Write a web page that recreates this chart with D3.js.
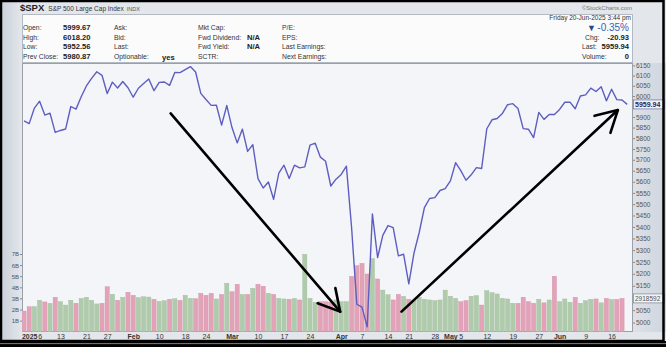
<!DOCTYPE html>
<html>
<head>
<meta charset="utf-8">
<script src="https://cdn.jsdelivr.net/npm/d3@7"></script>
<style>
  body { margin: 0; background: #fff; }
  svg { display: block; font-family: "Liberation Sans", Arial, sans-serif; }
</style>
</head>
<body>
<div id="chart"></div>
<script>
// trading days shown on the chart
const dates = [
  "2024-12-31",
  "2025-01-02","2025-01-03","2025-01-06","2025-01-07","2025-01-08","2025-01-10","2025-01-13","2025-01-14","2025-01-15","2025-01-16",
  "2025-01-17","2025-01-21","2025-01-22","2025-01-23","2025-01-24","2025-01-27","2025-01-28","2025-01-29","2025-01-30","2025-01-31",
  "2025-02-03","2025-02-04","2025-02-05","2025-02-06","2025-02-07","2025-02-10","2025-02-11","2025-02-12","2025-02-13","2025-02-14",
  "2025-02-18","2025-02-19","2025-02-20","2025-02-21","2025-02-24","2025-02-25","2025-02-26","2025-02-27","2025-02-28",
  "2025-03-03","2025-03-04","2025-03-05","2025-03-06","2025-03-07","2025-03-10","2025-03-11","2025-03-12","2025-03-13","2025-03-14",
  "2025-03-17","2025-03-18","2025-03-19","2025-03-20","2025-03-21","2025-03-24","2025-03-25","2025-03-26","2025-03-27","2025-03-28","2025-03-31",
  "2025-04-01","2025-04-02","2025-04-03","2025-04-04","2025-04-07","2025-04-08","2025-04-09","2025-04-10","2025-04-11","2025-04-14",
  "2025-04-15","2025-04-16","2025-04-17","2025-04-21","2025-04-22","2025-04-23","2025-04-24","2025-04-25","2025-04-28","2025-04-29","2025-04-30",
  "2025-05-01","2025-05-02","2025-05-05","2025-05-06","2025-05-07","2025-05-08","2025-05-09","2025-05-12","2025-05-13","2025-05-14",
  "2025-05-15","2025-05-16","2025-05-19","2025-05-20","2025-05-21","2025-05-22","2025-05-23","2025-05-27","2025-05-28","2025-05-29","2025-05-30",
  "2025-06-02","2025-06-03","2025-06-04","2025-06-05","2025-06-06","2025-06-09","2025-06-10","2025-06-11","2025-06-12","2025-06-13",
  "2025-06-16","2025-06-17","2025-06-18","2025-06-20"
];

// close prices
const closes = [
  5881.63,
  5868.55, 5942.47, 5975.38, 5909.03, 5918.25, 5827.04, 5836.22, 5842.91, 5949.91, 5937.34,
  5996.66, 6049.24, 6086.37, 6118.71, 6101.24, 6012.28, 6067.70, 6039.31, 6071.17, 6040.53,
  5994.57, 6037.88, 6061.48, 6083.57, 6025.99, 6066.44, 6068.50, 6051.97, 6115.07, 6114.63,
  6129.58, 6144.15, 6117.52, 6013.13, 5983.25, 5955.25, 5956.06, 5861.57, 5954.50,
  5849.72, 5778.15, 5842.63, 5738.52, 5770.20, 5614.56, 5572.07, 5599.30, 5521.52, 5638.94,
  5675.12, 5614.66, 5675.29, 5662.89, 5667.56, 5767.57, 5776.65, 5712.20, 5693.31, 5580.94, 5611.85,
  5633.07, 5670.97, 5396.52, 5074.08, 5062.25, 4982.77, 5456.90, 5268.05, 5363.36, 5405.97,
  5396.63, 5275.70, 5282.70, 5158.20, 5287.76, 5375.86, 5484.77, 5525.21, 5528.75, 5560.83, 5569.06,
  5604.14, 5686.67, 5650.38, 5606.91, 5631.28, 5663.94, 5659.91, 5844.19, 5886.55, 5892.58,
  5916.93, 5958.38, 5963.60, 5940.46, 5844.61, 5842.01, 5802.82, 5921.54, 5888.55, 5912.17, 5911.69,
  5935.94, 5970.37, 5970.81, 5939.30, 6000.36, 6005.88, 6038.81, 6022.24, 6045.26, 5976.97,
  6033.11, 5982.72, 5980.87, 5959.94
];
const priorClose = 5906.94; // close before the first day, sets the first bar's colour

// volume, billions of shares (last day not yet reported)
const volumes = [
  1.86,
  2.25, 2.25, 2.83, 2.68, 2.56, 3.10, 2.70, 2.40, 2.83, 2.56,
  3.00, 3.10, 2.83, 2.50, 2.56, 4.05, 3.37, 2.83, 3.10, 3.55,
  3.28, 3.06, 3.15, 3.12, 2.92, 2.74, 2.80, 2.92, 2.97, 2.83,
  3.28, 3.00, 2.97, 3.46, 3.28, 3.46, 2.95, 3.36, 4.36,
  3.60, 4.27, 3.36, 3.36, 3.90, 4.27, 4.10, 3.46, 3.36, 3.00,
  2.95, 2.92, 3.00, 2.86, 6.97, 3.00, 2.65, 2.70, 2.70, 2.65, 2.86,
  2.70, 2.70, 4.98, 5.95, 6.16, 5.20, 6.60, 4.75, 3.75, 3.33,
  2.86, 3.36, 3.18, 2.92, 2.86, 3.10, 2.92, 2.86, 2.80, 2.86, 3.75,
  3.20, 3.00, 2.70, 2.80, 3.20, 3.25, 2.40, 3.70, 3.52, 3.40,
  3.00, 2.95, 2.56, 2.56, 3.10, 2.70, 2.56, 2.92, 2.60, 2.86, 5.00,
  2.70, 2.95, 2.65, 3.10, 2.56, 2.80, 2.92, 2.95, 2.60, 3.00,
  2.90, 2.90, 3.00, 0
];

const priceTicks = [6150, 6100, 6050, 6000, 5900, 5850, 5800, 5750, 5700, 5650, 5600, 5550,
  5500, 5450, 5400, 5350, 5300, 5250, 5200, 5150, 5050, 5000];
const volTicks = [1, 2, 3, 4, 5, 6, 7];

const xTickDates = ["2025-01-02","2025-01-06","2025-01-13","2025-01-21","2025-01-27","2025-02-03","2025-02-10",
  "2025-02-18","2025-02-24","2025-03-03","2025-03-10","2025-03-17","2025-03-24","2025-04-01","2025-04-07",
  "2025-04-14","2025-04-21","2025-04-28","2025-05-01","2025-05-05","2025-05-12","2025-05-19","2025-05-27",
  "2025-06-02","2025-06-09","2025-06-16"];
const xTickLabels = ["2025","6","13","21","27","Feb","10","18","24","Mar","10","17","24","Apr","7",
  "14","21","28","May","5","12","19","27","Jun","9","16"];
const boldLabels = ["2025","Feb","Mar","Apr","May","Jun"];

// hand drawn arrows, in (day index, price)
const arrows = [
  { from: [28.2, 5917], to: [60.8, 5044] },
  { from: [72.6, 5044], to: [114.2, 5933] }
];

const W = 666, H = 347;
const plot = { l: 22, t: 63, r: 633, b: 332 };

const svg = d3.select("#chart").append("svg")
  .attr("width", W).attr("height", H);

const defs = svg.append("defs");
const lg = defs.append("linearGradient").attr("id", "leftg");
lg.append("stop").attr("offset", 0).attr("stop-color", "#c8ced8");
lg.append("stop").attr("offset", 1).attr("stop-color", "#e4e7ec");
const rg = defs.append("linearGradient").attr("id", "rightg");
rg.append("stop").attr("offset", 0).attr("stop-color", "#dde1e8");
rg.append("stop").attr("offset", 1).attr("stop-color", "#cfd5de");
defs.append("clipPath").attr("id", "plotclip")
  .append("rect").attr("x", plot.l).attr("y", plot.t)
  .attr("width", plot.r - plot.l).attr("height", plot.b - plot.t);

// background panels
svg.append("rect").attr("width", W).attr("height", H).attr("fill", "#e3e6eb");
svg.append("rect").attr("x", 0).attr("y", 0).attr("width", plot.l).attr("height", H).attr("fill", "url(#leftg)");
svg.append("rect").attr("x", plot.r).attr("y", plot.t).attr("width", W - plot.r).attr("height", plot.b - plot.t).attr("fill", "url(#rightg)");

// info box
svg.append("rect")
  .attr("x", plot.l + 0.5).attr("y", 14.5).attr("width", 610).attr("height", 48)
  .attr("fill", "#fbfbfc").attr("stroke", "#b4b9c2");

// plot area
svg.append("rect")
  .attr("x", plot.l + 0.5).attr("y", plot.t + 0.5)
  .attr("width", plot.r - plot.l - 1).attr("height", plot.b - plot.t - 1)
  .attr("fill", "#f3f5f8").attr("stroke", "#9aa0a8");

// scales
const x = d3.scaleLinear().domain([0, dates.length - 1]).range([24, 627.2]);
const y = d3.scaleLog().domain([4962, 6162]).range([plot.b, plot.t]);
const v = d3.scaleLinear().domain([0, 7]).range([331.7, 254]);

const inner = svg.append("g").attr("clip-path", "url(#plotclip)");

// volume bars
inner.selectAll(".vol")
  .data(volumes)
  .join("rect")
  .attr("class", "vol")
  .attr("x", (d, i) => x(i) - 2.1)
  .attr("width", 4.2)
  .attr("y", d => v(d))
  .attr("height", d => v(0) - v(d))
  .attr("fill", (d, i) => closes[i] >= (i ? closes[i - 1] : priorClose) ? "#b0cbab" : "#e2a2b7")
  .attr("stroke", (d, i) => closes[i] >= (i ? closes[i - 1] : priorClose) ? "#9fbd99" : "#d58fa6")
  .attr("stroke-width", 0.4);

// price line
const line = d3.line().x((d, i) => x(i)).y(d => y(d));
inner.append("path")
  .datum(closes)
  .attr("fill", "none")
  .attr("stroke", "#5e5ec0")
  .attr("stroke-width", 1.4)
  .attr("stroke-linejoin", "round")
  .attr("d", line);

// right price axis
const ya = svg.append("g")
  .attr("transform", `translate(${plot.r},0)`)
  .call(d3.axisRight(y).tickValues(priceTicks).tickSize(2).tickPadding(1).tickFormat(d3.format("d")));
ya.select(".domain").remove();
ya.selectAll("line").attr("stroke", "#888");
ya.selectAll("text").attr("font-size", 6.5).attr("fill", "#555");

// volume labels on the left
const va = svg.append("g")
  .attr("transform", `translate(${plot.l},0)`)
  .call(d3.axisLeft(v).tickValues(volTicks).tickSize(2).tickPadding(1).tickFormat(d => d + "B"));
va.select(".domain").remove();
va.selectAll("line").attr("stroke", "#888");
va.selectAll("text").attr("font-size", 6).attr("fill", "#555");

// last price box
const lastY = y(closes[closes.length - 1]);
svg.append("rect")
  .attr("x", plot.r + 0.5).attr("y", lastY - 4.5).attr("width", 31).attr("height", 9)
  .attr("fill", "#eef0f6").attr("stroke", "#7a7ab8").attr("stroke-width", 0.8);
svg.append("text")
  .attr("x", plot.r + 2).attr("y", lastY + 2.5)
  .attr("font-size", 7).attr("font-weight", "bold").attr("fill", "#2a2a50")
  .text(d3.format(".2f")(closes[closes.length - 1]));

// last volume box
const lastV = v(volumes[volumes.length - 2]);
svg.append("rect")
  .attr("x", plot.r + 0.5).attr("y", lastV - 4.5).attr("width", 31).attr("height", 9)
  .attr("fill", "#f2f3f5").attr("stroke", "#8a8f98").attr("stroke-width", 0.8);
svg.append("text")
  .attr("x", plot.r + 2).attr("y", lastV + 2.5)
  .attr("font-size", 6.5).attr("fill", "#555")
  .text("2918592");

// bottom date axis
const xa = svg.append("g")
  .attr("transform", `translate(0,${plot.b})`)
  .call(d3.axisBottom(x)
    .tickValues(xTickDates.map(d => dates.indexOf(d)))
    .tickSize(0).tickPadding(2)
    .tickFormat((d, k) => xTickLabels[k]));
xa.select(".domain").remove();
xa.selectAll("text")
  .attr("font-size", 7)
  .attr("fill", "#333")
  .attr("font-weight", (d, k) => boldLabels.includes(xTickLabels[k]) ? "bold" : "normal");

// arrows
const ag = svg.append("g").attr("stroke", "#000").attr("stroke-width", 2.6)
  .attr("fill", "none").attr("stroke-linecap", "round").attr("stroke-linejoin", "round");
arrows.forEach(a => {
  const x0 = x(a.from[0]), y0 = y(a.from[1]);
  const x1 = x(a.to[0]), y1 = y(a.to[1]);
  const ang = Math.atan2(y0 - y1, x0 - x1);
  const len = 24, spread = Math.PI / 6.2;
  const h1 = [x1 + len * Math.cos(ang + spread), y1 + len * Math.sin(ang + spread)];
  const h2 = [x1 + len * Math.cos(ang - spread), y1 + len * Math.sin(ang - spread)];
  ag.append("path").attr("d", `M${x0},${y0}L${x1},${y1}`);
  ag.append("path").attr("d", `M${h1[0]},${h1[1]}L${x1},${y1}L${h2[0]},${h2[1]}`);
});

// title strip
const title = svg.append("text").attr("x", 20).attr("y", 11);
title.append("tspan").attr("font-size", 9.5).attr("font-weight", "bold").attr("fill", "#222").text("$SPX");
title.append("tspan").attr("dx", 4).attr("font-size", 6.5).attr("fill", "#333").text("S&P 500 Large Cap Index");
title.append("tspan").attr("dx", 3).attr("font-size", 5.5).attr("fill", "#555").text("INDX");
svg.append("text").attr("x", 632).attr("y", 9.5).attr("text-anchor", "end")
  .attr("font-size", 6).attr("fill", "#777").text("\u00a9StockCharts.com");

// info box text
const rows = [30, 39.5, 49, 58.5];
const infoCols = [
  { x: 23, labels: ["Open:", "High:", "Low:", "Prev Close:"], vx: 63, values: ["5999.67", "6018.20", "5952.56", "5980.87"] },
  { x: 114, labels: ["Ask:", "Bid:", "Last:", "Optionable:"], vx: 162, values: ["", "", "", "yes"] },
  { x: 198, labels: ["Mkt Cap:", "Fwd Dividend:", "Fwd Yield:", "SCTR:"], vx: 247, values: ["", "N/A", "N/A", ""] },
  { x: 282, labels: ["P/E:", "EPS:", "Last Earnings:", "Next Earnings:"], vx: 0, values: ["", "", "", ""] }
];
const info = svg.append("g").attr("fill", "#333");
infoCols.forEach(c => {
  c.labels.forEach((t, k) => {
    info.append("text").attr("x", c.x).attr("y", rows[k]).attr("font-size", 6.8).text(t);
    if (c.values[k]) {
      info.append("text").attr("x", c.vx).attr("y", rows[k] + (t === "Optionable:" ? 1 : 0))
        .attr("font-size", 7.6).attr("font-weight", "bold").attr("fill", "#222").text(c.values[k]);
    }
  });
});

info.append("text").attr("x", 631).attr("y", 19.5).attr("text-anchor", "end")
  .attr("font-size", 6.5).text("Friday  20-Jun-2025  3:44 pm");
info.append("text").attr("x", 629).attr("y", 31).attr("text-anchor", "end")
  .attr("font-size", 10).attr("fill", "#3d60aa").text("-0.35%");
info.append("text").attr("x", 587).attr("y", 30.5)
  .attr("font-size", 9).attr("fill", "#234a8a").text("\u25BC");
const rightRows = [["Chg:", "-20.93", 585], ["Last:", "5959.94", 582], ["Volume:", "0", 582]];
rightRows.forEach((r, k) => {
  info.append("text").attr("x", r[2]).attr("y", rows[k + 1]).attr("font-size", 6.8).text(r[0]);
  info.append("text").attr("x", 629).attr("y", rows[k + 1]).attr("text-anchor", "end")
    .attr("font-size", 7.6).attr("font-weight", "bold").attr("fill", "#222").text(r[1]);
});

// black frame
svg.append("rect").attr("x", 1).attr("y", 1).attr("width", W - 3.5).attr("height", 340)
  .attr("fill", "none").attr("stroke", "#000").attr("stroke-width", 2.5);
svg.append("rect").attr("x", 0).attr("y", 341).attr("width", W).attr("height", 6).attr("fill", "#000");
svg.append("line").attr("x1", 0).attr("x2", W).attr("y1", 343.6).attr("y2", 343.6)
  .attr("stroke", "#9a9a9a").attr("stroke-width", 0.8);
</script>
</body>
</html>
